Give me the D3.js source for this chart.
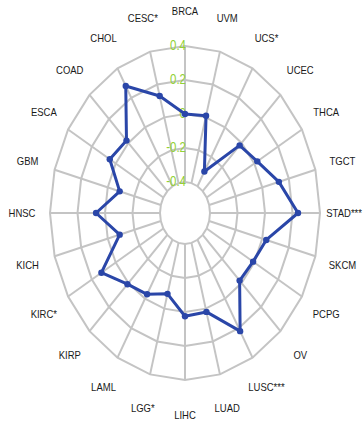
<!DOCTYPE html>
<html>
<head>
<meta charset="utf-8">
<script src="https://cdn.jsdelivr.net/npm/d3@7"></script>
<style>
  html, body { margin: 0; padding: 0; background: #fff; }
  svg { display: block; }
</style>
</head>
<body>
<div id="chart"></div>
<script>
// Cancer types, clockwise from the top
const categories = ["BRCA", "UVM", "UCS*", "UCEC", "THCA", "TGCT", "STAD***", "SKCM",
  "PCPG", "OV", "LUSC***", "LUAD", "LIHC", "LGG*", "LAML", "KIRP", "KIRC*", "KICH",
  "HNSC", "GBM", "ESCA", "COAD", "CHOL", "CESC*"];
// Correlation value per cancer type
const values = [0, 0.01, -0.30, -0.02, 0.025, 0.125, 0.24, 0.03,
  -0.01, -0.02, 0.22, 0.02, 0.025, -0.09, -0.03, 0.01, 0.12, -0.09,
  0.065, -0.09, 0.05, 0.02, 0.28, 0.13];
// Radial ticks
const tickValues = [0.4, 0.2, 0, -0.2, -0.4];
const tickLabels = ["0.4", "0.2", "0", "-0.2", "-0.4"];

const width = 363, height = 421;
const cx = 185, cy = 213;
const ky = 1.2375; // vertical stretch of the radar

const r = d3.scaleLinear().domain([-0.4, 0.4]).range([25, 135]);
const angle = d3.scaleLinear().domain([0, categories.length]).range([0, 2 * Math.PI]);

const px = (i, rad) => cx + rad * Math.sin(angle(i));
const py = (i, rad) => cy - rad * Math.cos(angle(i)) * ky;

const svg = d3.select("#chart").append("svg")
  .attr("width", width).attr("height", height);

const closed = d3.line().x(d => d[0]).y(d => d[1]).curve(d3.curveLinearClosed);

// Grid rings
svg.append("g").selectAll("path")
  .data(tickValues)
  .join("path")
  .attr("d", v => closed(categories.map((c, i) => [px(i, r(v)), py(i, r(v))])))
  .attr("fill", "none")
  .attr("stroke", "#c4c4c4")
  .attr("stroke-width", 2);

// Spokes
svg.append("g").selectAll("line")
  .data(categories)
  .join("line")
  .attr("x1", (c, i) => px(i, r(-0.4)))
  .attr("y1", (c, i) => py(i, r(-0.4)))
  .attr("x2", (c, i) => px(i, r(0.4)))
  .attr("y2", (c, i) => py(i, r(0.4)))
  .attr("stroke", "#c4c4c4")
  .attr("stroke-width", 2);

// Tick labels along the top spoke
svg.append("g").selectAll("text")
  .data(tickValues)
  .join("text")
  .attr("transform", v => `translate(${cx + 1},${cy - r(v) * ky}) scale(1,1.2)`)
  .attr("text-anchor", "end")
  .attr("dominant-baseline", "central")
  .attr("font-family", "Liberation Sans, Arial, sans-serif")
  .attr("font-size", 11.5)
  .attr("fill", "#92d136")
  .text((v, i) => tickLabels[i]);

// Category labels, kept inside the right edge
const labelR = r(0.4) + 28;
svg.append("g").selectAll("text")
  .data(categories)
  .join("text")
  .attr("text-anchor", "middle")
  .attr("dominant-baseline", "central")
  .attr("font-family", "Liberation Sans, Arial, sans-serif")
  .attr("font-size", 9.5)
  .attr("fill", "#1a1a1a")
  .text(c => c)
  .attr("transform", function(c, i) {
    const w = this.getComputedTextLength();
    const x = Math.min(px(i, labelR), width - 1 - w / 2);
    return `translate(${x},${py(i, labelR)}) scale(1,1.2)`;
  });

// Data polygon
const pts = values.map((v, i) => [px(i, r(v)), py(i, r(v))]);
svg.append("path")
  .attr("d", closed(pts))
  .attr("fill", "none")
  .attr("stroke", "#2a46a8")
  .attr("stroke-width", 3)
  .attr("stroke-linejoin", "round");

svg.append("g").selectAll("circle")
  .data(pts)
  .join("circle")
  .attr("cx", d => d[0])
  .attr("cy", d => d[1])
  .attr("r", 3.2)
  .attr("fill", "#2a46a8");
</script>
</body>
</html>
